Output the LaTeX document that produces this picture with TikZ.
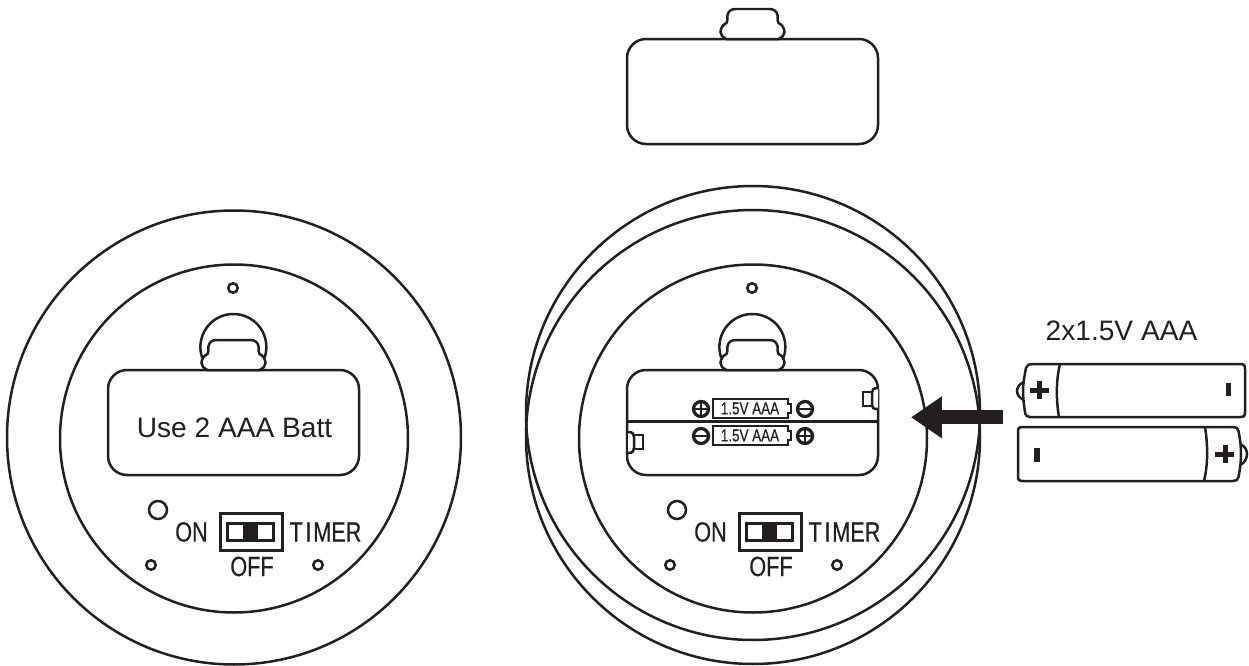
\documentclass[tikz,border=0pt]{standalone}
\usepackage{fontspec}
\setmainfont{Liberation Sans}
\newfontfamily\narrowfont[FakeStretch=0.78,FakeBold=0.4]{Liberation Sans}
\usetikzlibrary{arrows.meta}

\definecolor{ink}{HTML}{231F20}

\tikzset{
    part/.style={draw=ink,line width=0.05cm,fill=white},
    hole/.style={draw=ink,line width=0.05cm,shape=circle,inner sep=0pt,minimum size=0.19cm},
    led/.style={draw=ink,line width=0.05cm,shape=circle,inner sep=0pt,minimum size=0.36cm},
    sign/.style={draw=ink,line width=0.065cm,shape=circle,inner sep=0pt,minimum size=0.3cm},
    switchlabel/.style={inner sep=0pt,text=ink,font=\narrowfont\fontsize{15.8}{16}\selectfont},
    celllabel/.style={inner sep=0pt,text=ink,font=\narrowfont\fontsize{9.8}{10}\selectfont},
    plainlabel/.style={inner sep=0pt,text=ink,font=\fontsize{16}{16}\selectfont},
    % Tapa con lengueta, el origen es el centro del borde superior.
    cover/.pic={
        \draw[part] (-125.5,0) [rounded corners=0.38cm] -- (125.5,0) -- (125.5,105) -- (-125.5,105) -- cycle;
        \draw[part] (-26,0) .. controls (-30,-2) and (-32,-4) .. (-32,-7)
            .. controls (-32,-11) and (-29,-15) .. (-26,-16)
            .. controls (-25,-17) and (-25,-20) .. (-25,-24)
            .. controls (-24,-28) and (-21,-30) .. (-17,-30) -- (17,-30)
            .. controls (21,-30) and (24,-28) .. (25,-24)
            .. controls (25,-20) and (25,-17) .. (26,-16)
            .. controls (29,-15) and (32,-11) .. (32,-7)
            .. controls (32,-4) and (30,-2) .. (26,0) -- cycle;
    },
    % Parte comun de las dos bases.
    backplate/.pic={
        \draw[part,fill=none] (234,438.5) circle [radius=174];
        \node[hole] (top) at (233,288) {};
        \draw[part,fill=none] (202.3,358) arc [start angle=160.5,end angle=379.5,radius=33];
        \node[led] (led) at (158,510) {};
        \node[hole] (h1) at (151,565) {};
        \node[hole] (h2) at (318,565) {};
        \node[switchlabel] (on) at (191.5,532) {ON};
        \node[switchlabel] (timer) at (325.5,532) {T\kern1.5pt I\kern1pt MER};
        \node[switchlabel] (off) at (252,566.5) {OFF};
        \node[draw=ink,line width=0.06cm,inner sep=0pt,minimum width=1.24cm,minimum height=0.74cm] (sw) at (251.5,532) {};
        \node[draw=ink,line width=0.06cm,inner sep=0pt,minimum width=0.92cm,minimum height=0.34cm] (slot) at (250.5,532) {};
        \node[fill=ink,inner sep=0pt,minimum width=0.3cm,minimum height=0.34cm] (slider) at (250.5,532) {};
    }
}

\begin{document}
\begin{tikzpicture}[x=0.02cm,y=-0.02cm]

    \useasboundingbox (0,0) rectangle (1249,666);

    % Tapa suelta.
    \pic at (752.5,39) {cover};

    % Base izquierda.
    \draw[part,fill=none] (234,437.5) circle [radius=227];
    \pic (l) at (0,0) {backplate};
    \pic at (233.5,370) {cover};
    \node[plainlabel] (batt) at (234.5,428) {Use 2 AAA Batt};

    % Base derecha.
    \draw[part,fill=none] (753,413) circle [radius=227];
    \draw[part,fill=none] (753,437) circle [radius=227];
    \pic (r) at (519,0) {backplate};
    \pic at (752.5,370) {cover};

    % Compartimento.
    \coordinate (c1) at (627,421.5);
    \coordinate (c2) at (878,421.5);
    \draw[part] (c1) -- (c2);

    \draw[part,fill=none] (872,392) -- (863,392) -- (863,406) -- (872,406);
    \draw[part,fill=white] (878,388) .. controls (873,388) and (872,390) .. (872,393) -- (872,405) .. controls (872,408) and (873,409) .. (878,409);
    \draw[part,fill=none] (634,435) -- (643,435) -- (643,449) -- (634,449);
    \draw[part,fill=white] (628,432) .. controls (633,432) and (634,434) .. (634,437) -- (634,448) .. controls (634,451) and (633,453) .. (628,453);

    \draw[part,line width=0.055cm] (713,399) -- (788,399) -- (788,404) -- (791,404) -- (791,413) -- (788,413) -- (788,418) -- (713,418) -- cycle;
    \draw[part,line width=0.055cm] (713,426) -- (788,426) -- (788,431) -- (791,431) -- (791,440) -- (788,440) -- (788,445) -- (713,445) -- cycle;
    \node[celllabel] (t1) at (750,408.5) {1.5V AAA};
    \node[celllabel] (t2) at (750,435.5) {1.5V AAA};

    \node[sign] (s1) at (701,409) {};
    \node[sign] (s2) at (805,409) {};
    \node[sign] (s3) at (701,436) {};
    \node[sign] (s4) at (805,436) {};
    \draw[part] (s1.west) -- (s1.east);
    \draw[part] (s1.north) -- (s1.south);
    \draw[part] (s2.west) -- (s2.east);
    \draw[part] (s3.west) -- (s3.east);
    \draw[part] (s4.west) -- (s4.east);
    \draw[part] (s4.north) -- (s4.south);

    % Flecha.
    \coordinate (a1) at (1003,417.3);
    \coordinate (a2) at (911,417.3);
    \draw[draw=ink,line width=0.286cm,-{Triangle[length=0.62cm,width=0.8cm,fill=ink]}] (a1) -- (a2);

    % Pilas.
    \node[plainlabel] (volt) at (1121.5,331) {2x1.5V AAA};

    \draw[part] (1024,382) .. controls (1019,384) and (1017,388) .. (1017,391) .. controls (1017,394) and (1019,398) .. (1024,400);
    \draw[part] (1032,364) -- (1240,364) .. controls (1244,364) and (1245,365) .. (1245,369) -- (1245,412)
        .. controls (1245,416) and (1244,417) .. (1240,417) -- (1030,417) .. controls (1027,417) and (1025.5,415.5) .. (1025,412)
        .. controls (1023.5,402) and (1023,396) .. (1023,390.5) .. controls (1023,385) and (1024,378) .. (1026,368)
        .. controls (1027,365) and (1029,364) .. (1032,364) -- cycle;
    \draw[part] (1060,364) .. controls (1056,380) and (1056,400) .. (1059,417);
    \draw[draw=none,fill=ink] (1037,381) rectangle (1042,399);
    \draw[draw=none,fill=ink] (1030,388) rectangle (1049,393);
    \draw[draw=none,fill=ink] (1225.5,383) rectangle (1230.5,396);

    \draw[part] (1240,444) .. controls (1245,446) and (1247,450) .. (1247,454) .. controls (1247,458) and (1245,463) .. (1240,465);
    \draw[part] (1023,427) -- (1233,427) .. controls (1236,427) and (1238,428) .. (1238.5,431)
        .. controls (1240.5,441) and (1241,448) .. (1241,454) .. controls (1241,460) and (1240.5,467) .. (1238.5,477)
        .. controls (1238,480) and (1236,481) .. (1233,481) -- (1023,481) .. controls (1019,481) and (1018,480) .. (1018,476)
        -- (1018,432) .. controls (1018,428) and (1019,427) .. (1023,427) -- cycle;
    \draw[part] (1205,427) .. controls (1208,445) and (1208,465) .. (1204,481);
    \draw[draw=none,fill=ink] (1222.5,445) rectangle (1227.5,463);
    \draw[draw=none,fill=ink] (1215,451.5) rectangle (1234,456.5);
    \draw[draw=none,fill=ink] (1034,448) rectangle (1039.5,461.5);

\end{tikzpicture}
\end{document}
